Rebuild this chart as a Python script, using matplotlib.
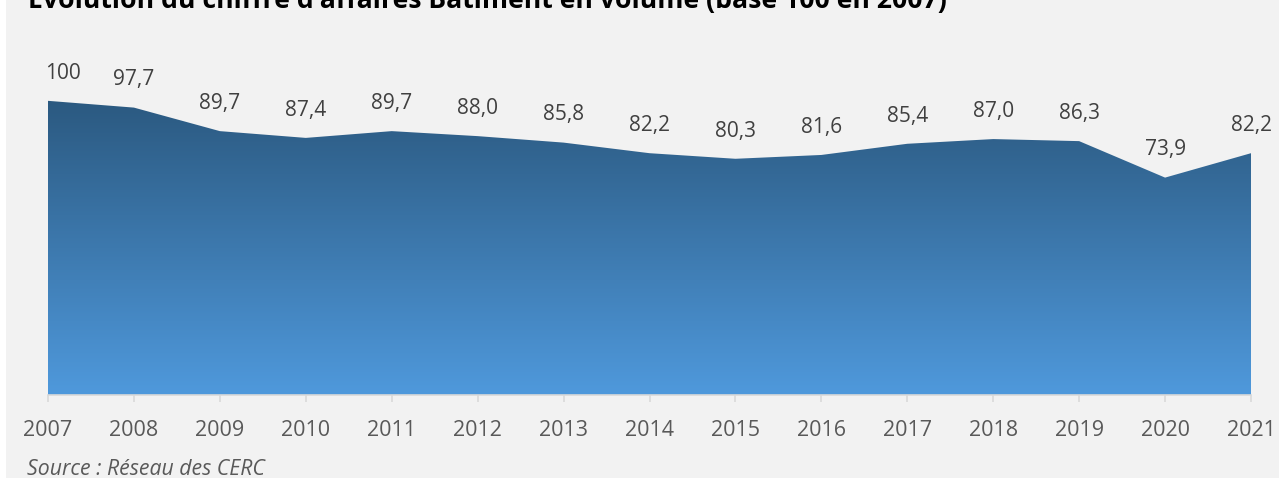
import matplotlib.pyplot as plt
import numpy as np
from matplotlib.colors import LinearSegmentedColormap
from matplotlib.patches import Rectangle

years = [2007, 2008, 2009, 2010, 2011, 2012, 2013, 2014, 2015, 2016, 2017, 2018, 2019, 2020, 2021]
index_values = [100, 97.7, 89.7, 87.4, 89.7, 88.0, 85.8, 82.2, 80.3, 81.6, 85.4, 87.0, 86.3, 73.9, 82.2]
value_labels = ['100', '97,7', '89,7', '87,4', '89,7', '88,0', '85,8', '82,2', '80,3', '81,6',
                '85,4', '87,0', '86,3', '73,9', '82,2']

title = "Évolution du chiffre d'affaires Bâtiment en volume (base 100 en 2007)"
source = "Source : Réseau des CERC"

plt.rcParams['font.family'] = ['Open Sans', 'DejaVu Sans']

W, H = 1279, 478
fig = plt.figure(figsize=(W / 100, H / 100), dpi=100, facecolor='white')

# grey panel behind everything
fig.patches.append(Rectangle((6 / W, 0), 1 - 6 / W, 1, transform=fig.transFigure,
                             facecolor='#f2f2f2', edgecolor='none', zorder=-10))

ax = fig.add_axes([48 / W, 1 - 395 / H, (1251 - 48) / W, 353 / H])
ax.set_zorder(1)
ax.set_facecolor('none')

# area with vertical gradient (dark at top, lighter at bottom)
poly = ax.fill_between(years, index_values, 0, facecolor='none', edgecolor='none')
cmap = LinearSegmentedColormap.from_list('grad', ['#4f99dc', '#2b5980'])
grad = np.linspace(0, 1, 256).reshape(-1, 1)
img = ax.imshow(grad, cmap=cmap, origin='lower', aspect='auto',
                extent=[years[0], years[-1], 0, max(index_values)], zorder=1)
img.set_clip_path(poly.get_paths()[0], transform=ax.transData)
ax.set_xlim(years[0], years[-1])
ax.set_ylim(0, 120)

# data labels
for i, (x, y, lab) in enumerate(zip(years, index_values, value_labels)):
    ha = 'left' if i == 0 else 'center'
    dx = -2 if i == 0 else 0
    ax.annotate(lab, (x, y), xytext=(dx, 20), textcoords='offset points',
                ha=ha, va='center', fontsize=15, color='#404040', zorder=3,
                annotation_clip=False)

for side in ['top', 'right', 'left']:
    ax.spines[side].set_visible(False)
ax.spines['bottom'].set_color('#d9d9d9')
ax.spines['bottom'].set_linewidth(1.2)
ax.set_yticks([])
ax.set_xticks(years)
ax.set_xticklabels([str(y) for y in years])
ax.tick_params(axis='x', direction='out', length=5, width=1.2, color='#d9d9d9',
               labelsize=15.5, labelcolor='#595959', pad=13)

fig.text(28 / W, 1 - 8 / H, title, fontsize=19.2, fontweight='bold', color='black',
         ha='left', va='baseline')
fig.text(27 / W, 1 - 475 / H, source, fontsize=15.3, style='italic', color='#595959',
         ha='left', va='baseline')

fig.savefig('out.png', dpi=100, facecolor=fig.get_facecolor())
